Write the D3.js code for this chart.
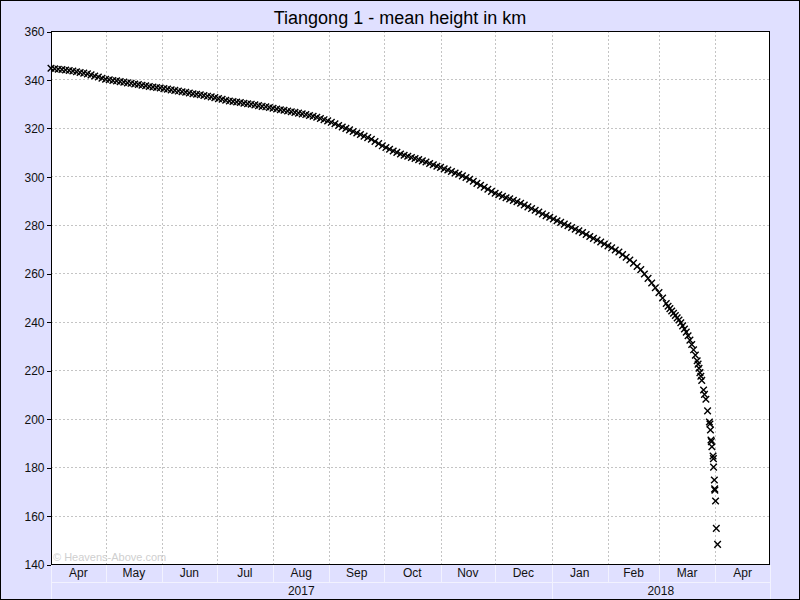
<!DOCTYPE html>
<html><head><meta charset="utf-8">
<script src="https://cdn.jsdelivr.net/npm/d3@7"></script>
<style>html,body{margin:0;padding:0;background:#e0e0ff}svg{display:block}</style>
</head><body><svg id="c" width="800" height="600"></svg>
<script>
const chartTitle = "Tiangong 1 - mean height in km";
const watermark = "\u00a9 Heavens-Above.com";
const yTicks = [140,160,180,200,220,240,260,280,300,320,340,360];
const monthStarts = ["2017-04-01","2017-05-01","2017-06-01","2017-07-01","2017-08-01","2017-09-01","2017-10-01","2017-11-01","2017-12-01","2018-01-01","2018-02-01","2018-03-01","2018-04-01","2018-05-01"];
const monthLabels = ["Apr","May","Jun","Jul","Aug","Sep","Oct","Nov","Dec","Jan","Feb","Mar","Apr"];
const yearBounds = ["2017-04-01","2018-01-01","2018-05-01"];
const yearLabels = ["2017","2018"];

const obsDates = [
"2017-04-01","2017-04-03","2017-04-05","2017-04-07","2017-04-09","2017-04-11","2017-04-13","2017-04-15","2017-04-17","2017-04-19",
"2017-04-21","2017-04-23","2017-04-25","2017-04-27","2017-04-29","2017-05-01","2017-05-03","2017-05-05","2017-05-07","2017-05-09",
"2017-05-11","2017-05-13","2017-05-15","2017-05-17","2017-05-19","2017-05-21","2017-05-23","2017-05-25","2017-05-27","2017-05-29",
"2017-05-31","2017-06-02","2017-06-04","2017-06-06","2017-06-08","2017-06-10","2017-06-12","2017-06-14","2017-06-16","2017-06-18",
"2017-06-20","2017-06-22","2017-06-24","2017-06-26","2017-06-28","2017-06-30","2017-07-02","2017-07-04","2017-07-06","2017-07-08",
"2017-07-10","2017-07-12","2017-07-14","2017-07-16","2017-07-18","2017-07-20","2017-07-22","2017-07-24","2017-07-26","2017-07-28",
"2017-07-30","2017-08-01","2017-08-03","2017-08-05","2017-08-07","2017-08-09","2017-08-11","2017-08-13","2017-08-15","2017-08-17",
"2017-08-19","2017-08-21","2017-08-23","2017-08-25","2017-08-27","2017-08-29","2017-08-31","2017-09-02","2017-09-04","2017-09-06",
"2017-09-08","2017-09-10","2017-09-12","2017-09-14","2017-09-16","2017-09-18","2017-09-20","2017-09-22","2017-09-24","2017-09-26",
"2017-09-28","2017-09-30","2017-10-02","2017-10-04","2017-10-06","2017-10-08","2017-10-10","2017-10-12","2017-10-14","2017-10-16",
"2017-10-18","2017-10-20","2017-10-22","2017-10-24","2017-10-26","2017-10-28","2017-10-30","2017-11-01","2017-11-03","2017-11-05",
"2017-11-07","2017-11-09","2017-11-11","2017-11-13","2017-11-15","2017-11-17","2017-11-19","2017-11-21","2017-11-23","2017-11-25",
"2017-11-27","2017-11-29","2017-12-01","2017-12-03","2017-12-05","2017-12-07","2017-12-09","2017-12-11","2017-12-13","2017-12-15",
"2017-12-17","2017-12-19","2017-12-21","2017-12-23","2017-12-25","2017-12-27","2017-12-29","2017-12-31","2018-01-02","2018-01-04",
"2018-01-06","2018-01-08","2018-01-10","2018-01-12","2018-01-14","2018-01-16","2018-01-18","2018-01-20","2018-01-22","2018-01-24",
"2018-01-26","2018-01-28","2018-01-30","2018-02-01","2018-02-03","2018-02-05","2018-02-07","2018-02-09","2018-02-11","2018-02-13",
"2018-02-15","2018-02-17","2018-02-19","2018-02-21","2018-02-23","2018-02-25","2018-02-27","2018-03-01","2018-03-03","2018-03-05",
"2018-03-06","2018-03-07","2018-03-08","2018-03-09","2018-03-10","2018-03-11","2018-03-12","2018-03-13","2018-03-14","2018-03-15",
"2018-03-16","2018-03-17","2018-03-18","2018-03-19","2018-03-20","2018-03-21","2018-03-22","2018-03-22T12:00Z","2018-03-23","2018-03-23T12:00Z",
"2018-03-24","2018-03-24T12:00Z","2018-03-25T12:00Z","2018-03-26","2018-03-26T19:00Z","2018-03-27T17:00Z","2018-03-28T17:00Z","2018-03-29T00:00Z","2018-03-29T07:00Z","2018-03-29T14:00Z",
"2018-03-29T19:00Z","2018-03-30T02:00Z","2018-03-30T17:00Z","2018-03-30T22:00Z","2018-03-31T00:00Z","2018-03-31T10:00Z","2018-03-31T14:00Z","2018-03-31T17:00Z","2018-04-01T02:00Z","2018-04-01T12:00Z",
"2018-04-02T05:00Z"
];
const heights = [
344.6,344.4,344.2,344.1,343.9,343.7,343.5,343.2,342.9,342.6,
342.3,341.9,341.4,341.0,340.5,340.1,339.9,339.6,339.4,339.1,
338.9,338.6,338.4,338.1,337.9,337.6,337.4,337.1,336.9,336.7,
336.5,336.2,336.0,335.7,335.5,335.2,334.9,334.7,334.4,334.1,
333.9,333.7,333.4,333.1,332.8,332.5,332.1,331.8,331.4,331.1,
330.9,330.7,330.5,330.2,330.0,329.8,329.5,329.2,328.9,328.7,
328.4,328.1,327.8,327.5,327.3,327.0,326.7,326.4,326.1,325.8,
325.5,325.1,324.8,324.4,323.9,323.4,322.9,322.3,321.7,321.0,
320.4,319.8,319.2,318.5,317.9,317.3,316.6,316.0,315.3,314.4,
313.5,312.6,311.9,311.2,310.5,309.9,309.2,308.7,308.3,307.8,
307.4,306.9,306.4,305.9,305.3,304.8,304.2,303.7,303.1,302.6,
302.0,301.4,300.9,300.2,299.5,298.8,298.0,297.1,296.3,295.5,
294.7,293.8,293.0,292.4,291.8,291.2,290.7,290.1,289.5,288.9,
288.2,287.4,286.7,286.0,285.3,284.5,283.8,283.1,282.4,281.7,
281.0,280.3,279.6,278.9,278.2,277.5,276.8,276.0,275.2,274.4,
273.7,272.9,272.1,271.3,270.5,269.6,268.8,267.7,266.6,265.5,
264.2,262.8,261.5,259.7,257.9,256.0,254.0,252.0,249.8,247.5,
246.4,245.4,244.4,243.5,242.6,241.6,240.7,239.6,238.3,237.0,
235.7,234.2,232.4,230.6,228.4,226.2,223.9,222.5,220.8,219.0,
217.5,215.8,211.8,210.0,208.0,203.2,198.6,197.8,195.3,191.2,
190.5,188.4,184.6,183.5,180.0,174.7,171.0,170.5,166.0,154.7,
148.1
];

(function(){
const W = 800, H = 600;
const pL = 51, pR = 770, pT = 31, pB = 564;
const bg = "#e0e0ff", sep = "#f2f2ff";
const font = "'Liberation Sans', Arial, sans-serif";

const svg = d3.select("#c");
const x = d3.scaleUtc().domain([new Date(monthStarts[0]), new Date(monthStarts[monthStarts.length-1])]).range([pL, pR]);
const y = d3.scaleLinear().domain([d3.min(yTicks), d3.max(yTicks)]).range([pB, pT]);

svg.append("rect").attr("x",0.5).attr("y",0.5).attr("width",W-1).attr("height",H-1)
  .attr("fill",bg).attr("stroke","#000");

svg.append("text").attr("x",W/2).attr("y",24).attr("text-anchor","middle")
  .attr("font-family",font).attr("font-size",18).attr("fill","#000").text(chartTitle);

svg.append("rect").attr("x",pL).attr("y",pT).attr("width",pR-pL).attr("height",pB-pT).attr("fill","#fff");

// gridlines
const grid = svg.append("g").attr("stroke","#c4c4c4").attr("stroke-dasharray","2,2").attr("shape-rendering","crispEdges");
grid.selectAll("line.v").data(monthStarts.slice(1,-1)).join("line")
  .attr("x1",d=>Math.round(x(new Date(d)))+0.5).attr("x2",d=>Math.round(x(new Date(d)))+0.5)
  .attr("y1",pT).attr("y2",pB);
grid.selectAll("line.h").data(yTicks.slice(1,-1)).join("line")
  .attr("y1",d=>Math.round(y(d))+0.5).attr("y2",d=>Math.round(y(d))+0.5)
  .attr("x1",pL).attr("x2",pR);

// watermark
svg.append("text").attr("x",pL+2).attr("y",pB-3.5).attr("font-family",font).attr("font-size",11)
  .attr("fill","#cfcfcf").text(watermark);

// data markers
const sym = d3.symbol().type(d3.symbolTimes).size(30);
svg.append("g").attr("fill","none").attr("stroke","#000").attr("stroke-width",1.4)
  .selectAll("path").data(heights.map((h,i)=>({t:new Date(obsDates[i]), h})))
  .join("path")
  .attr("transform",d=>`translate(${x(d.t)},${y(d.h)})`)
  .attr("d",sym());

// plot border
svg.append("rect").attr("x",pL+0.5).attr("y",pT+0.5).attr("width",pR-pL-1).attr("height",pB-pT)
  .attr("fill","none").attr("stroke","#000").attr("shape-rendering","crispEdges");

// y axis
const yAxis = svg.append("g").attr("transform",`translate(${pL+0.5},0.5)`)
  .call(d3.axisLeft(y).tickValues(yTicks).tickSize(5).tickPadding(2).tickFormat(d3.format("d")));
yAxis.select(".domain").remove();
yAxis.selectAll("line").attr("stroke","#000").attr("shape-rendering","crispEdges");
yAxis.selectAll("text").attr("font-family",font).attr("font-size",12).attr("fill","#111").attr("dy","0.35em");

// month band
const band = svg.append("g");
const mRowBottom = 582, yRowBottom = 599;
band.append("line").attr("x1",pL).attr("x2",pR).attr("y1",mRowBottom+0.5).attr("y2",mRowBottom+0.5)
  .attr("stroke",sep).attr("shape-rendering","crispEdges");
band.selectAll("line.m").data(monthStarts).join("line")
  .attr("x1",d=>Math.round(x(new Date(d)))+0.5).attr("x2",d=>Math.round(x(new Date(d)))+0.5)
  .attr("y1",pB+1).attr("y2",mRowBottom).attr("stroke",sep).attr("shape-rendering","crispEdges");
band.selectAll("line.yb").data(yearBounds).join("line")
  .attr("x1",d=>Math.round(x(new Date(d)))+0.5).attr("x2",d=>Math.round(x(new Date(d)))+0.5)
  .attr("y1",mRowBottom).attr("y2",yRowBottom).attr("stroke",sep).attr("shape-rendering","crispEdges");
band.selectAll("text.m").data(monthLabels).join("text")
  .attr("x",(d,i)=>(x(new Date(monthStarts[i]))+x(new Date(monthStarts[i+1])))/2)
  .attr("y",577).attr("text-anchor","middle").attr("font-family",font).attr("font-size",12).attr("fill","#111")
  .text(d=>d);
band.selectAll("text.yl").data(yearLabels).join("text")
  .attr("x",(d,i)=>(x(new Date(yearBounds[i]))+x(new Date(yearBounds[i+1])))/2)
  .attr("y",595).attr("text-anchor","middle").attr("font-family",font).attr("font-size",12).attr("fill","#111")
  .text(d=>d);
})();
</script></body></html>
